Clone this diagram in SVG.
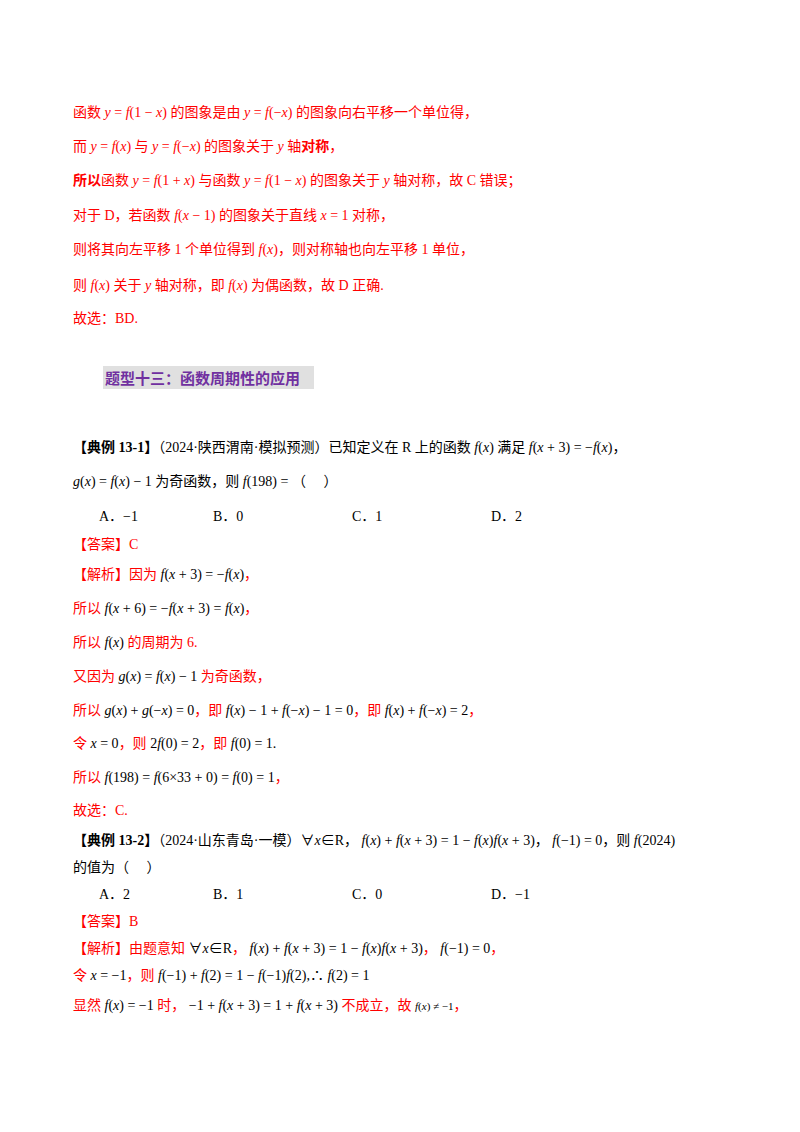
<svg xmlns="http://www.w3.org/2000/svg" width="800" height="1132" viewBox="0 0 800 1132">
<style>
text{font-family:"Liberation Serif","Noto Sans CJK SC",serif;font-size:14px}
.r{fill:#ff0000}.k{fill:#000}.m{font-style:italic}.b{font-weight:bold}
.h{fill:#7030a0;font-weight:bold;font-size:15px;font-family:"Noto Sans CJK SC",sans-serif}
</style>
<rect width="800" height="1132" fill="#fff"/>
<g class="r">
<text x="73" y="117" class="r">函数 <tspan class="m">y</tspan> = <tspan class="m">f</tspan>(1 − <tspan class="m">x</tspan>) 的图象是由 <tspan class="m">y</tspan> = <tspan class="m">f</tspan>(−<tspan class="m">x</tspan>) 的图象向右平移一个单位得，</text>
<text x="73" y="151" class="r">而 <tspan class="m">y</tspan> = <tspan class="m">f</tspan>(<tspan class="m">x</tspan>) 与 <tspan class="m">y</tspan> = <tspan class="m">f</tspan>(−<tspan class="m">x</tspan>) 的图象关于 <tspan class="m">y</tspan> 轴<tspan class="b">对称</tspan>，</text>
<text x="73" y="185" class="r"><tspan class="b">所以</tspan>函数 <tspan class="m">y</tspan> = <tspan class="m">f</tspan>(1 + <tspan class="m">x</tspan>) 与函数 <tspan class="m">y</tspan> = <tspan class="m">f</tspan>(1 − <tspan class="m">x</tspan>) 的图象关于 <tspan class="m">y</tspan> 轴对称，故 C 错误；</text>
<text x="73" y="220" class="r">对于 D，若函数 <tspan class="m">f</tspan>(<tspan class="m">x</tspan> − 1) 的图象关于直线 <tspan class="m">x</tspan> = 1 对称，</text>
<text x="73" y="254" class="r">则将其向左平移 1 个单位得到 <tspan class="m">f</tspan>(<tspan class="m">x</tspan>)，则对称轴也向左平移 1 单位，</text>
<text x="73" y="290" class="r">则 <tspan class="m">f</tspan>(<tspan class="m">x</tspan>) 关于 <tspan class="m">y</tspan> 轴对称，即 <tspan class="m">f</tspan>(<tspan class="m">x</tspan>) 为偶函数，故 D 正确.</text>
<text x="73" y="323" class="r">故选：BD.</text>
</g>
<g id="heading">
<rect x="103" y="366" width="211" height="23" fill="#e0e0e0"/>
<text x="105" y="384" class="h">题型十三：函数周期性的应用</text>
</g>
<g class="k">
<text x="73" y="452"><tspan class="b">【典例 13-1】</tspan>（2024·陕西渭南·模拟预测）已知定义在 R 上的函数 <tspan class="m">f</tspan>(<tspan class="m">x</tspan>) 满足 <tspan class="m">f</tspan>(<tspan class="m">x</tspan> + 3) = −<tspan class="m">f</tspan>(<tspan class="m">x</tspan>)，</text>
<text x="73" y="486"><tspan class="m">g</tspan>(<tspan class="m">x</tspan>) = <tspan class="m">f</tspan>(<tspan class="m">x</tspan>) − 1 为奇函数，则 <tspan class="m">f</tspan>(198) = （　 ）</text>
<text x="99" y="521">A．−1</text><text x="213" y="521">B．0</text><text x="352" y="521">C．1</text><text x="491" y="521">D．2</text>
<text x="73" y="549" class="r">【答案】C</text>
<text x="73" y="579" class="r">【解析】因为 <tspan class="k"><tspan class="m">f</tspan>(<tspan class="m">x</tspan> + 3) = −<tspan class="m">f</tspan>(<tspan class="m">x</tspan>)</tspan>，</text>
<text x="73" y="613" class="r">所以 <tspan class="k"><tspan class="m">f</tspan>(<tspan class="m">x</tspan> + 6) = −<tspan class="m">f</tspan>(<tspan class="m">x</tspan> + 3) = <tspan class="m">f</tspan>(<tspan class="m">x</tspan>)</tspan>，</text>
<text x="73" y="647" class="r">所以 <tspan class="k"><tspan class="m">f</tspan>(<tspan class="m">x</tspan>)</tspan> 的周期为 6.</text>
<text x="73" y="681" class="r">又因为 <tspan class="k"><tspan class="m">g</tspan>(<tspan class="m">x</tspan>) = <tspan class="m">f</tspan>(<tspan class="m">x</tspan>) − 1</tspan> 为奇函数，</text>
<text x="73" y="715" class="r">所以 <tspan class="k"><tspan class="m">g</tspan>(<tspan class="m">x</tspan>) + <tspan class="m">g</tspan>(−<tspan class="m">x</tspan>) = 0</tspan>，即 <tspan class="k"><tspan class="m">f</tspan>(<tspan class="m">x</tspan>) − 1 + <tspan class="m">f</tspan>(−<tspan class="m">x</tspan>) − 1 = 0</tspan>，即 <tspan class="k"><tspan class="m">f</tspan>(<tspan class="m">x</tspan>) + <tspan class="m">f</tspan>(−<tspan class="m">x</tspan>) = 2</tspan>，</text>
<text x="73" y="748" class="r">令 <tspan class="k"><tspan class="m">x</tspan> = 0</tspan>，则 <tspan class="k">2<tspan class="m">f</tspan>(0) = 2</tspan>，即 <tspan class="k"><tspan class="m">f</tspan>(0) = 1.</tspan></text>
<text x="73" y="782" class="r">所以 <tspan class="k"><tspan class="m">f</tspan>(198) = <tspan class="m">f</tspan>(6×33 + 0) = <tspan class="m">f</tspan>(0) = 1</tspan>，</text>
<text x="73" y="815" class="r">故选：C.</text>
<text x="73" y="845"><tspan class="b">【典例 13-2】</tspan>（2024·山东青岛·一模）∀<tspan class="m">x</tspan>∈R， <tspan class="m">f</tspan>(<tspan class="m">x</tspan>) + <tspan class="m">f</tspan>(<tspan class="m">x</tspan> + 3) = 1 − <tspan class="m">f</tspan>(<tspan class="m">x</tspan>)<tspan class="m">f</tspan>(<tspan class="m">x</tspan> + 3)， <tspan class="m">f</tspan>(−1) = 0，则 <tspan class="m">f</tspan>(2024)</text>
<text x="73" y="872">的值为（　 ）</text>
<text x="99" y="899">A．2</text><text x="213" y="899">B．1</text><text x="352" y="899">C．0</text><text x="491" y="899">D．−1</text>
<text x="73" y="926" class="r">【答案】B</text>
<text x="73" y="953" class="r">【解析】由题意知 <tspan class="k">∀<tspan class="m">x</tspan>∈R</tspan>， <tspan class="k"><tspan class="m">f</tspan>(<tspan class="m">x</tspan>) + <tspan class="m">f</tspan>(<tspan class="m">x</tspan> + 3) = 1 − <tspan class="m">f</tspan>(<tspan class="m">x</tspan>)<tspan class="m">f</tspan>(<tspan class="m">x</tspan> + 3)</tspan>， <tspan class="k"><tspan class="m">f</tspan>(−1) = 0</tspan>，</text>
<text x="73" y="980" class="r">令 <tspan class="k"><tspan class="m">x</tspan> = −1</tspan>，则 <tspan class="k"><tspan class="m">f</tspan>(−1) + <tspan class="m">f</tspan>(2) = 1 − <tspan class="m">f</tspan>(−1)<tspan class="m">f</tspan>(2),∴ <tspan class="m">f</tspan>(2) = 1</tspan></text>
<text x="73" y="1010" class="r">显然 <tspan class="k"><tspan class="m">f</tspan>(<tspan class="m">x</tspan>) = −1</tspan> 时， <tspan class="k">−1 + <tspan class="m">f</tspan>(<tspan class="m">x</tspan> + 3) = 1 + <tspan class="m">f</tspan>(<tspan class="m">x</tspan> + 3)</tspan> 不成立，故 <tspan class="k" style="font-size:11px"><tspan class="m">f</tspan>(<tspan class="m">x</tspan>) ≠ −1</tspan>，</text>
</g>
</svg>
